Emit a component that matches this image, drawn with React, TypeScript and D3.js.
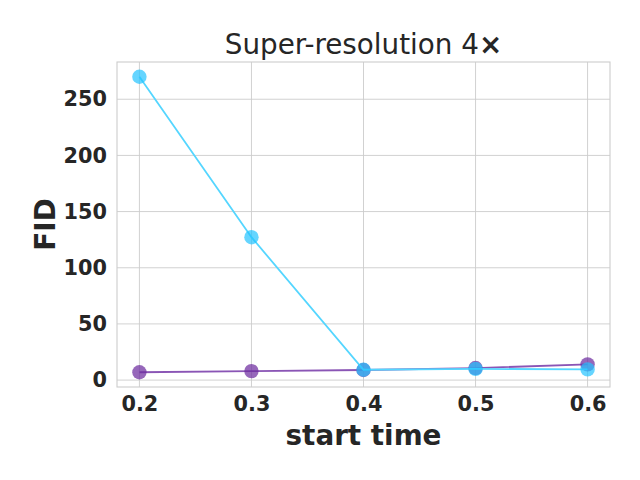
import React, { useEffect, useRef } from 'react';
import * as d3 from 'd3';

const startTimes = [0.2, 0.3, 0.4, 0.5, 0.6];
const fidCyan = [270, 127.2, 9.2, 10, 9.5];
const fidPurple = [7, 8, 9, 10.7, 14];
const xTicks = [0.2, 0.3, 0.4, 0.5, 0.6];
const yTicks = [0, 50, 100, 150, 200, 250];

const FONT = 'DejaVu Sans, sans-serif';

export default function App() {
    const ref = useRef<SVGSVGElement>(null);

    useEffect(() => {
        const width = 640, height = 480;
        const margin = { top: 62, right: 30, bottom: 93, left: 117 };

        const x = d3.scaleLinear().domain([0.18, 0.62]).range([margin.left, width - margin.right]);
        const y = d3.scaleLinear().domain([-6.15, 283.15]).range([height - margin.bottom, margin.top]);

        const svg = d3.select(ref.current);
        svg.selectAll('*').remove();

        svg.append('rect').attr('width', width).attr('height', height).attr('fill', '#fff');

        // grid
        const grid = svg.append('g').attr('stroke', '#cccccc').attr('stroke-width', 0.9);
        grid.selectAll('.gx').data(xTicks).enter().append('line')
            .attr('x1', d => x(d)).attr('x2', d => x(d))
            .attr('y1', margin.top).attr('y2', height - margin.bottom);
        grid.selectAll('.gy').data(yTicks).enter().append('line')
            .attr('x1', margin.left).attr('x2', width - margin.right)
            .attr('y1', d => y(d)).attr('y2', d => y(d));

        // frame
        svg.append('rect')
            .attr('x', margin.left).attr('y', margin.top)
            .attr('width', width - margin.left - margin.right)
            .attr('height', height - margin.top - margin.bottom)
            .attr('fill', 'none').attr('stroke', '#cccccc').attr('stroke-width', 1.1);

        // axes labels
        const xAxis = svg.append('g').attr('transform', `translate(0,${height - margin.bottom})`)
            .call(d3.axisBottom(x).tickValues(xTicks).tickSize(0).tickPadding(9).tickFormat(d3.format('.1f')));
        xAxis.select('.domain').remove();
        xAxis.selectAll('text').attr('font-family', FONT).attr('font-size', 20.8)
            .attr('font-weight', 'bold').attr('fill', '#262626');

        const yAxis = svg.append('g').attr('transform', `translate(${margin.left},0)`)
            .call(d3.axisLeft(y).tickValues(yTicks).tickSize(0).tickPadding(10));
        yAxis.select('.domain').remove();
        yAxis.selectAll('text').attr('font-family', FONT).attr('font-size', 20.8)
            .attr('font-weight', 'bold').attr('fill', '#262626');

        const series = [
            { values: fidPurple, line: '#8a55b5', dot: 'rgba(110,45,160,0.72)' },
            { values: fidCyan, line: '#55d6ff', dot: 'rgba(35,195,255,0.7)' },
        ];

        const line = d3.line<number>().x((_, i) => x(startTimes[i])).y(d => y(d));

        series.forEach(s => {
            svg.append('path').datum(s.values)
                .attr('fill', 'none').attr('stroke', s.line).attr('stroke-width', 1.8)
                .attr('d', line);
            svg.append('g').selectAll('circle').data(s.values).enter().append('circle')
                .attr('cx', (_, i) => x(startTimes[i])).attr('cy', d => y(d))
                .attr('r', 7.2).attr('fill', s.dot);
        });

        const title = svg.append('text').attr('x', (margin.left + width - margin.right) / 2).attr('y', 54)
            .attr('text-anchor', 'middle').attr('font-family', FONT).attr('font-size', 27.8)
            .attr('fill', '#262626');
        title.append('tspan').text('Super-resolution 4');
        title.append('tspan').attr('font-weight', 'bold').text('×');

        svg.append('text').attr('x', (margin.left + width - margin.right) / 2).attr('y', 445)
            .attr('text-anchor', 'middle').attr('font-family', FONT).attr('font-size', 27.8)
            .attr('font-weight', 'bold').attr('fill', '#262626').text('start time');

        svg.append('text')
            .attr('transform', `translate(55,${(margin.top + height - margin.bottom) / 2}) rotate(-90)`)
            .attr('text-anchor', 'middle').attr('font-family', FONT).attr('font-size', 27.8)
            .attr('font-weight', 'bold').attr('fill', '#262626').text('FID');
    }, []);

    return <svg ref={ref} width={640} height={480} style={{ display: 'block', margin: -8 }} />;
}
